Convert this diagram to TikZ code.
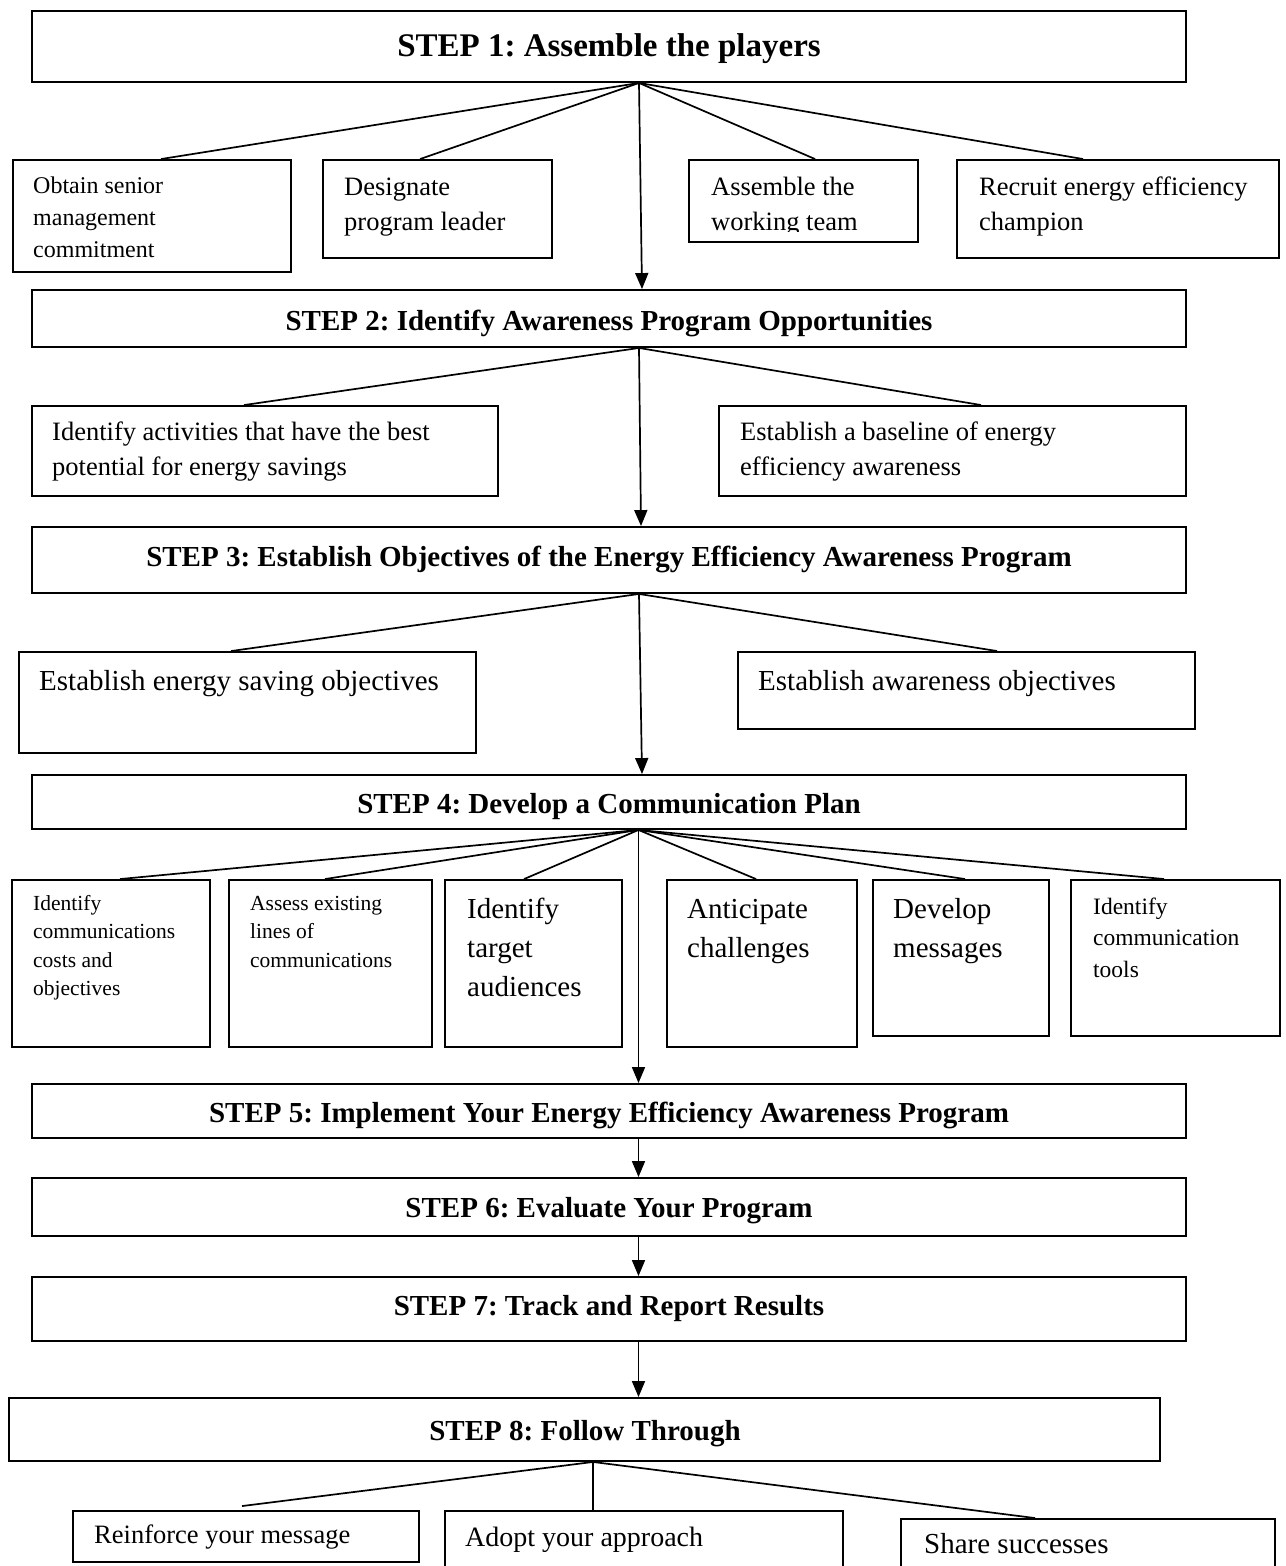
\documentclass[tikz,border=0pt]{standalone}
\usepackage{fontspec}
\setmainfont{Liberation Serif}
\usetikzlibrary{arrows.meta,calc,fit}
\newcommand{\lns}[1]{\begin{tabular}[t]{@{}l@{}}#1\end{tabular}}
\frenchspacing
\begin{document}
\begin{tikzpicture}[x=1pt,y=-1pt,
  box/.style={draw, line width=1.9pt, inner sep=0pt},
  conn/.style={line width=1.7pt},
  arr/.style={line width=1.7pt, -{Triangle[length=16pt,width=13pt]}},
  steptxt/.style={anchor=base, inner sep=0pt, font=\bfseries\fontsize{29}{35}\selectfont},
  txt/.style={anchor=base west, inner sep=0pt},
  fa/.style={font=\fontsize{21.5}{28.5}\selectfont},
  fb/.style={font=\fontsize{24}{32}\selectfont},
  fc/.style={font=\fontsize{26.5}{35}\selectfont},
  fd/.style={font=\fontsize{29}{39}\selectfont}]
\useasboundingbox (0,0) rectangle (1285,1566);
\clip (0,0) rectangle (1285,1566);

% step boxes
\node[box, fit={(32,11)(1186,82)}] (s1) {};
\node[box, fit={(32,290)(1186,347)}] (s2) {};
\node[box, fit={(32,527)(1186,593)}] (s3) {};
\node[box, fit={(32,775)(1186,829)}] (s4) {};
\node[box, fit={(32,1084)(1186,1138)}] (s5) {};
\node[box, fit={(32,1178)(1186,1236)}] (s6) {};
\node[box, fit={(32,1277)(1186,1341)}] (s7) {};
\node[box, fit={(9,1398)(1160,1461)}] (s8) {};

\node[steptxt, font=\bfseries\fontsize{33}{40}\selectfont] (s1t) at (609,56) {STEP 1: Assemble the players};
\node[steptxt] (s2t) at (609,330) {STEP 2: Identify Awareness Program Opportunities};
\node[steptxt] (s3t) at (609,566) {STEP 3: Establish Objectives of the Energy Efficiency Awareness Program};
\node[steptxt] (s4t) at (609,813) {STEP 4: Develop a Communication Plan};
\node[steptxt] (s5t) at (609,1122) {STEP 5: Implement Your Energy Efficiency Awareness Program};
\node[steptxt] (s6t) at (609,1217) {STEP 6: Evaluate Your Program};
\node[steptxt] (s7t) at (609,1315) {STEP 7: Track and Report Results};
\node[steptxt] (s8t) at (585,1440) {STEP 8: Follow Through};

% row 1
\node[box, fit={(13,160)(291,272)}] (c11) {};
\node[box, fit={(323,160)(552,258)}] (c12) {};
\node[box, fit={(689,160)(918,242)}] (c13) {};
\node[box, fit={(957,160)(1279,258)}] (c14) {};
\node[txt, fb] (c11t) at (33,193) {\lns{Obtain senior\\management\\commitment}};
\node[txt, fc] (c12t) at (344,195) {\lns{Designate\\program leader}};
\begin{scope}
\clip (689,160) rectangle (918,231);
\node[txt, fc] (c13t) at (711,195) {\lns{Assemble the\\working team}};
\end{scope}
\node[txt, fc] (c14t) at (979,195) {\lns{Recruit energy efficiency\\champion}};

% row 2
\node[box, fit={(32,406)(498,496)}] (c21) {};
\node[box, fit={(719,406)(1186,496)}] (c22) {};
\node[txt, fc] (c21t) at (52,440) {\lns{Identify activities that have the best\\potential for energy savings}};
\node[txt, fc] (c22t) at (740,440) {\lns{Establish a baseline of energy\\efficiency awareness}};

% row 3
\node[box, fit={(19,652)(476,753)}] (c31) {};
\node[box, fit={(738,652)(1195,729)}] (c32) {};
\node[txt, fd] (c31t) at (39,690) {Establish energy saving objectives};
\node[txt, fd] (c32t) at (758,690) {Establish awareness objectives};

% row 4
\node[box, fit={(12,880)(210,1047)}] (c41) {};
\node[box, fit={(229,880)(432,1047)}] (c42) {};
\node[box, fit={(445,880)(622,1047)}] (c43) {};
\node[box, fit={(667,880)(857,1047)}] (c44) {};
\node[box, fit={(873,880)(1049,1036)}] (c45) {};
\node[box, fit={(1071,880)(1280,1036)}] (c46) {};
\node[txt, fa] (c41t) at (33,910) {\lns{Identify\\communications\\costs and\\objectives}};
\node[txt, fa] (c42t) at (250,910) {\lns{Assess existing\\lines of\\communications}};
\node[txt, fd] (c43t) at (467,918) {\lns{Identify\\target\\audiences}};
\node[txt, fd] (c44t) at (687,918) {\lns{Anticipate\\challenges}};
\node[txt, fd] (c45t) at (893,918) {\lns{Develop\\messages}};
\node[txt, font=\fontsize{23.5}{31.5}\selectfont] (c46t) at (1093,914) {\lns{Identify\\communication\\tools}};

% row 5
\node[box, fit={(73,1511)(419,1562)}] (c51) {};
\node[box, fit={(445,1511)(843,1590)}] (c52) {};
\node[box, fit={(901,1519)(1275,1590)}] (c53) {};
\node[txt, fc] (c51t) at (94,1543) {Reinforce your message};
\node[txt, font=\fontsize{28}{34}\selectfont] (c52t) at (465,1546) {Adopt your approach};
\node[txt, fd] (c53t) at (924,1553) {Share successes};

% origins
\coordinate (o1) at ($(s1.south)+(30,0)$);
\coordinate (o2) at ($(s2.south)+(30,0)$);
\coordinate (o3) at ($(s3.south)+(30,0)$);
\coordinate (o4) at ($(s4.south)+(29.5,0)$);
\coordinate (o8) at ($(s8.south)+(8.5,0)$);

% connectors
\draw[conn] (o1) -- ($(c11.north west)+(149,0)$);
\draw[conn] (o1) -- ($(c12.north west)+(98,0)$);
\draw[conn] (o1) -- ($(c13.north west)+(127,0)$);
\draw[conn] (o1) -- ($(c14.north west)+(127,0)$);
\draw[arr] (o1) -- ($(s2.north)+(33,0)$);

\draw[conn] (o2) -- ($(c21.north west)+(213,0)$);
\draw[conn] (o2) -- ($(c22.north west)+(263,0)$);
\draw[arr] (o2) -- ($(s3.north)+(32,0)$);

\draw[conn] (o3) -- ($(c31.north west)+(213,0)$);
\draw[conn] (o3) -- ($(c32.north west)+(260,0)$);
\draw[arr] (o3) -- ($(s4.north)+(33,0)$);

\draw[conn] (o4) -- ($(c41.north west)+(109,0)$);
\draw[conn] (o4) -- ($(c42.north west)+(97,0)$);
\draw[conn] (o4) -- ($(c43.north west)+(80,0)$);
\draw[conn] (o4) -- ($(c44.north west)+(90,0)$);
\draw[conn] (o4) -- ($(c45.north west)+(93,0)$);
\draw[conn] (o4) -- ($(c46.north west)+(94,0)$);
\draw[arr] (o4) -- ($(s5.north)+(29.5,0)$);

\draw[arr] ($(s5.south)+(29.5,0)$) -- ($(s6.north)+(29.5,0)$);
\draw[arr] ($(s6.south)+(29.5,0)$) -- ($(s7.north)+(29.5,0)$);
\draw[arr] ($(s7.south)+(29.5,0)$) -- ($(s8.north)+(54,0)$);

\draw[conn] (o8) -- ($(c51.north west)+(170,-4)$);
\draw[conn] (o8) -- (o8 |- c52.north);
\draw[conn] (o8) -- ($(c53.north west)+(135,0)$);
\end{tikzpicture}
\end{document}
